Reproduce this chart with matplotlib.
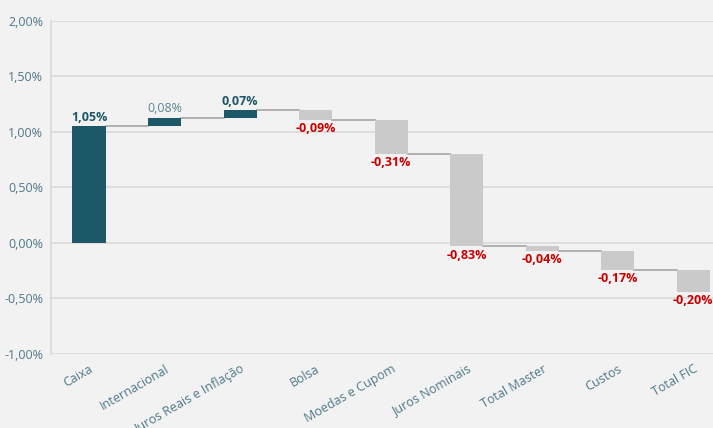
import matplotlib.pyplot as plt
from matplotlib.ticker import FuncFormatter

plt.rcParams['font.family'] = ['Open Sans', 'DejaVu Sans']

categories = ['Caixa', 'Internacional', 'Juros Reais e Inflação', 'Bolsa',
              'Moedas e Cupom', 'Juros Nominais', 'Total Master', 'Custos', 'Total FIC']
deltas = [1.05, 0.08, 0.07, -0.09, -0.31, -0.83, -0.04, -0.17, -0.20]
labels = ['1,05%', '0,08%', '0,07%', '-0,09%', '-0,31%', '-0,83%', '-0,04%', '-0,17%', '-0,20%']

teal = '#1d5868'
gray = '#c9cac9'
red = '#c80000'
tick_col = '#4e7888'
bg = '#f2f2f2'

fig = plt.figure(figsize=(7.13, 4.28), dpi=100, facecolor=bg)
ax = fig.add_axes([0.072, 0.173, 0.928, 0.778], facecolor=bg)

width = 0.44
start = 0.0
ends = []
for i, d in enumerate(deltas):
    end = start + d
    col = teal if d > 0 else gray
    ax.bar(i, d, bottom=start, width=width, color=col, zorder=3)
    if d > 0:
        weight = 'normal' if i == 1 else 'bold'
        tcol = '#5f8593' if i == 1 else teal
        ax.text(i, end + 0.02, labels[i], ha='center', va='bottom',
                fontsize=9, fontweight=weight, color=tcol, zorder=4)
    else:
        ax.text(i, end - 0.02, labels[i], ha='center', va='top',
                fontsize=9, fontweight='bold', color=red, zorder=4)
    ends.append(end)
    start = end

# connectors
for i in range(len(deltas) - 1):
    ax.plot([i + width / 2, i + 1 - width / 2], [ends[i], ends[i]],
            color='#a6a6a6', lw=1.2, zorder=2)

ax.set_ylim(-1.0, 2.0)
ax.set_xlim(-0.5, 8.26)
ax.set_yticks([-1.0, -0.5, 0.0, 0.5, 1.0, 1.5, 2.0])
ax.yaxis.set_major_formatter(FuncFormatter(lambda v, p: f'{v:.2f}%'.replace('.', ',')))
ax.grid(axis='y', color='#d9d9d9', lw=1.2, zorder=0)
ax.set_axisbelow(True)

ax.set_xticks(range(len(categories)))
ax.set_xticklabels(categories, rotation=30, ha='right', rotation_mode='anchor',
                   fontsize=9, color=tick_col)
ax.tick_params(axis='y', labelsize=9, labelcolor=tick_col, length=0, pad=6)
ax.tick_params(axis='x', length=0, pad=6)

for s in ['top', 'right', 'bottom']:
    ax.spines[s].set_visible(False)
ax.spines['left'].set_color('#d9d9d9')
ax.spines['left'].set_linewidth(1.2)

fig.savefig('out.png', dpi=100, facecolor=bg)
